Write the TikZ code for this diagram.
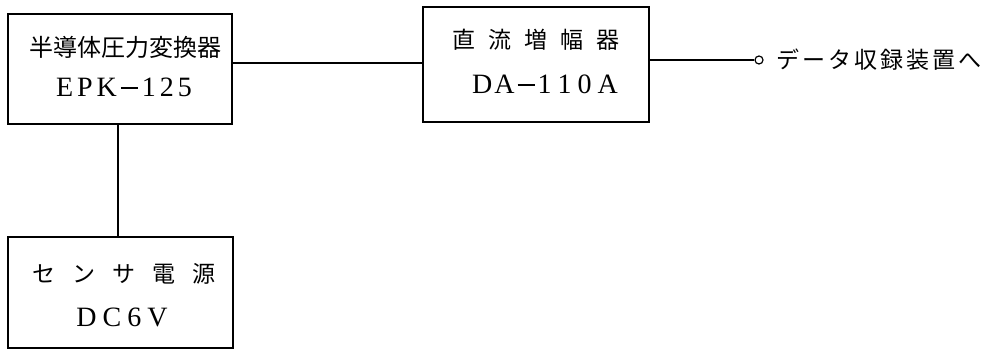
\documentclass[tikz,border=0pt]{standalone}
\usepackage{fontspec}
\newfontfamily\jp{Noto Sans CJK JP}
\setmainfont{Liberation Serif}
\newcommand\longdash{\rule[7.5pt]{17pt}{1.3pt}}
\begin{document}
\begin{tikzpicture}[x=1pt,y=-1pt,
  blk/.style={draw,line width=1.6pt,rectangle,inner sep=0pt},
  jtxt/.style={inner sep=0pt,font=\jp\fontsize{23}{26}\selectfont},
  ltxt/.style={inner sep=0pt,font=\fontsize{28}{30}\selectfont},
  wire/.style={line width=1.4pt}]
\useasboundingbox (0,0) rectangle (992,352);
% boxes
\node[blk,minimum width=224pt,minimum height=110pt] (b1) at (120,69) {};
\node[blk,minimum width=226pt,minimum height=115pt] (b2) at (536,64.5) {};
\node[blk,minimum width=225pt,minimum height=111pt] (b3) at (120.5,292.5) {};
% texts
\node[jtxt,font=\jp\fontsize{24}{26}\selectfont] (t1a) at (125,47) {半導体圧力変換器};
\node[ltxt] (t1b) at (124,87) {E\hspace{4pt}P\hspace{4pt}K\hspace{4pt}\longdash\hspace{4pt}1\hspace{4pt}2\hspace{4pt}5};
\node[jtxt] (t2a) at (536,40) {直\hspace{13pt}流\hspace{13pt}増\hspace{13pt}幅\hspace{13pt}器};
\node[ltxt] (t2b) at (545,84) {D\hspace{2pt}A\hspace{3pt}\longdash\hspace{3pt}1\hspace{6pt}1\hspace{6pt}0\hspace{6pt}A};
\node[jtxt] (t3a) at (124,274) {セ\hspace{17pt}ン\hspace{17pt}サ\hspace{17pt}電\hspace{17pt}源};
\node[ltxt] (t3b) at (122,317) {D\hspace{6pt}C\hspace{6pt}6\hspace{6pt}V};
% output terminal and label
\node[draw,circle,line width=1.2pt,minimum size=8pt,inner sep=0pt] (term) at (759,60) {};
\node[jtxt,anchor=west] (out) at (776,60) {デ\hspace{3pt}ー\hspace{3pt}タ\hspace{3pt}収\hspace{3pt}録\hspace{3pt}装\hspace{3pt}置\hspace{3pt}へ};
% connectors
\coordinate (c1) at (300,63);
\coordinate (c2) at (118,180);
\draw[wire] (b1.east |- c1) -- (c1 -| b2.west);
\draw[wire] (b2.east |- term) -- (term.west);
\draw[wire] (b1.south -| c2) -- (b3.north -| c2);
\end{tikzpicture}
\end{document}
